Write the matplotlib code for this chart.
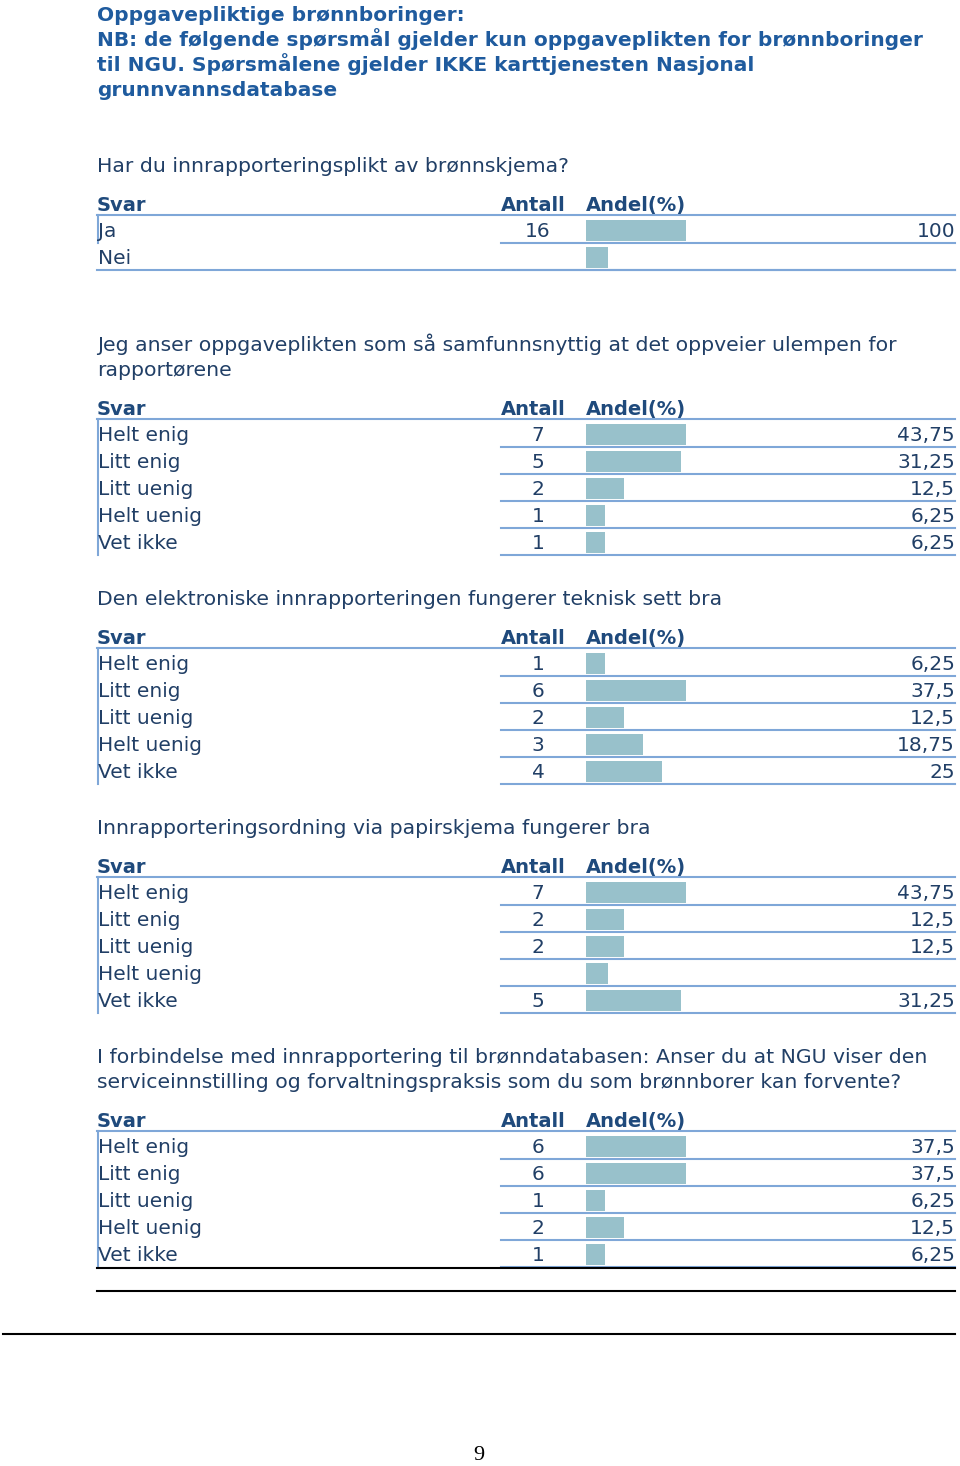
"""Survey result tables (NGU brønnboring questionnaire), redrawn as a page figure."""
import matplotlib

matplotlib.use("Agg")
import matplotlib.pyplot as plt

# DejaVu is wider than Arial; it stands in for the letter-spaced PDF text
plt.rcParams["font.family"] = ["DejaVu Sans"]

# ---- data -------------------------------------------------------------------
title_lines = [
    "Oppgavepliktige brønnboringer:",
    "NB: de følgende spørsmål gjelder kun oppgaveplikten for brønnboringer",
    "til NGU. Spørsmålene gjelder IKKE karttjenesten Nasjonal",
    "grunnvannsdatabase",
]

agree_labels = ["Helt enig", "Litt enig", "Litt uenig", "Helt uenig", "Vet ikke"]

q1_text = ["Har du innrapporteringsplikt av brønnskjema?"]
q1_labels = ["Ja", "Nei"]
q1_antall = [16, None]
q1_andel = [100, None]

q2_text = [
    "Jeg anser oppgaveplikten som så samfunnsnyttig at det oppveier ulempen for",
    "rapportørene",
]
q2_antall = [7, 5, 2, 1, 1]
q2_andel = [43.75, 31.25, 12.5, 6.25, 6.25]

q3_text = ["Den elektroniske innrapporteringen fungerer teknisk sett bra"]
q3_antall = [1, 6, 2, 3, 4]
q3_andel = [6.25, 37.5, 12.5, 18.75, 25]

q4_text = ["Innrapporteringsordning via papirskjema fungerer bra"]
q4_antall = [7, 2, 2, None, 5]
q4_andel = [43.75, 12.5, 12.5, None, 31.25]

q5_text = [
    "I forbindelse med innrapportering til brønndatabasen: Anser du at NGU viser den",
    "serviceinnstilling og forvaltningspraksis som du som brønnborer kan forvente?",
]
q5_antall = [6, 6, 1, 2, 1]
q5_andel = [37.5, 37.5, 6.25, 12.5, 6.25]

header_cols = ["Svar", "Antall", "Andel(%)"]
page_number = "9"

# ---- style ------------------------------------------------------------------
TITLE_C = "#1f5b9e"
HEAD_C = "#1f4a7c"
TEXT_C = "#213f66"
LINE_C = "#7fa7d8"
BAR_C = "#98c1cb"

X_LEFT, X_ANTALL, X_BAR, X_RIGHT = 97, 501, 586, 955
PX_PER_PCT = 3.04
BAR_CAP = 100      # longest bar drawn, px
EMPTY_STUB = 22    # bar shown for an empty row
ROW_H = 27
LINE_H = 25
BASE = 7           # baseline offset below a row's centre, px


def fmt(v):
    return f"{v:g}".replace(".", ",")


def txt(ax, x, y, s, **kw):
    kw.setdefault("fontsize", 14.5)
    kw.setdefault("color", TEXT_C)
    ax.text(x, y + BASE, s, va="baseline", **kw)


def draw_section(ax, top, question, labels, antall, andel, short_vline=False):
    y = top
    for line in question:
        txt(ax, X_LEFT, y, line, fontsize=14.7)
        y += LINE_H
    y_head = y - LINE_H + 38
    for x, name in zip([X_LEFT, X_ANTALL, X_BAR], header_cols):
        ax.text(x, y_head + 8, name, fontsize=14, fontweight="bold", color=HEAD_C,
                va="baseline")
    y_hline = y_head + 12
    ax.plot([X_LEFT, X_RIGHT], [y_hline, y_hline], color=LINE_C, lw=1.5)

    rows_y = [y_head + ROW_H * (i + 1) for i in range(len(labels))]
    lengths = [EMPTY_STUB if p is None else min(p * PX_PER_PCT, BAR_CAP) for p in andel]
    ax.barh(rows_y, lengths, left=X_BAR, height=21, color=BAR_C, zorder=2)
    for ry, lab, n, p in zip(rows_y, labels, antall, andel):
        txt(ax, X_LEFT + 1, ry, lab)
        if n is not None:
            txt(ax, 538, ry, str(n), ha="center")
        if p is not None:
            txt(ax, X_RIGHT, ry, fmt(p), ha="right")
        ax.plot([X_ANTALL, X_RIGHT], [ry + 13, ry + 13], color=LINE_C, lw=1.5)
    bottom = rows_y[0] + 13 if short_vline else rows_y[-1] + 13
    ax.plot([X_LEFT + 1, X_LEFT + 1], [y_hline, bottom], color=LINE_C, lw=1.5)
    return rows_y[-1]


fig = plt.figure(figsize=(9.6, 14.66), dpi=100)
ax = fig.add_axes([0, 0, 1, 1])
ax.set_xlim(0, 960)
ax.set_ylim(1466, 0)
ax.axis("off")

for i, line in enumerate(title_lines):
    txt(ax, X_LEFT, 14 + LINE_H * i, line, fontsize=14.5, fontweight="bold",
        color=TITLE_C)

last = draw_section(ax, 165, q1_text, q1_labels, q1_antall, q1_andel, short_vline=True)
ax.plot([X_LEFT, X_RIGHT], [last + 13, last + 13], color=LINE_C, lw=1.5)
last = draw_section(ax, 344, q2_text, agree_labels, q2_antall, q2_andel)
last = draw_section(ax, last + 56, q3_text, agree_labels, q3_antall, q3_andel)
last = draw_section(ax, last + 56, q4_text, agree_labels, q4_antall, q4_andel)
last = draw_section(ax, last + 56, q5_text, agree_labels, q5_antall, q5_andel)

ax.plot([X_LEFT, X_RIGHT], [last + 14, last + 14], color="black", lw=1.5)
ax.plot([X_LEFT, X_RIGHT], [last + 37, last + 37], color="black", lw=1.5)
ax.plot([3, X_RIGHT], [last + 80, last + 80], color="black", lw=1.5)
ax.text(479, 1456, page_number, fontsize=16, family="Liberation Serif",
        ha="center", va="center", color="black")

fig.savefig("out.png", dpi=100)
